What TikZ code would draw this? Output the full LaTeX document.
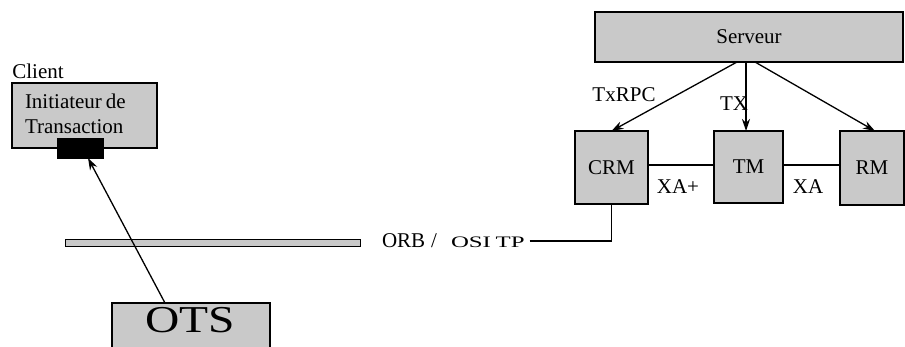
\documentclass[tikz,border=0pt]{standalone}
\usepackage{fontspec}
\setmainfont{Liberation Serif}
\usetikzlibrary{arrows.meta}
\begin{document}
\begin{tikzpicture}[x=1pt,y=-1pt,
  every node/.style={inner sep=0pt,outer sep=0pt},
  box/.style={draw=black,fill=gray!42,line width=1.5pt,font=\fontsize{21}{25}\selectfont},
  lbl/.style={font=\fontsize{21}{25}\selectfont},
  conn/.style={line width=1.2pt},
  arr/.style={line width=1.3pt,-{Stealth[length=12pt,width=8pt]}}]
\useasboundingbox (0,0) rectangle (905,347);
\clip (0,0) rectangle (905,347);
% left side
\node[lbl] (client) at (38,71) {Client};
\node[box,minimum width=145pt,minimum height=65pt] (init) at (84.5,115.5) {};
\node[lbl,anchor=base west] (initA) at (25,109) {Initiateur\hspace{4pt}de};
\node[lbl,anchor=base west] (initB) at (25,134) {Transaction};
\node[draw=black,fill=black,minimum width=46pt,minimum height=20pt] (plug) at (80,148) {};
\node[draw=black,fill=gray!42,line width=1pt,minimum width=295pt,minimum height=7pt] (bar) at (212.5,243.5) {};
\node[box,minimum width=158pt,minimum height=70pt] (ots) at (191,338) {};
\node[font=\fontsize{38}{44}\selectfont] (otst) at (190,320) {\scalebox{1.25}[1]{OTS}};
\draw[arr] ([xshift=-26pt]ots.north) -- ([xshift=8pt]plug.south);
% ORB label
\node[lbl,anchor=base west] (orb) at (382,248) {ORB\hspace{6pt}/\hspace{14pt}{\fontsize{16}{19}\selectfont\scalebox{1.55}[1]{OSI\hspace{3pt}TP}}};
% right side
\node[box,minimum width=308pt,minimum height=50pt] (serveur) at (749,37) {Serveur};
\node[box,minimum width=73pt,minimum height=73pt] (crm) at (611.5,167.5) {CRM};
\node[box,minimum width=69pt,minimum height=72pt] (tm) at (748.5,167) {TM};
\node[box,minimum width=64pt,minimum height=74pt] (rm) at (872,168) {RM};
\draw[conn] (crm.east |- 0,165) coordinate (c1) -- (tm.west |- c1);
\draw[conn] (tm.east |- 0,165) coordinate (c2) -- (rm.west |- c2);
\node[lbl] (xap) at (678,187) {XA+};
\node[lbl] (xa) at (808,187) {XA};
\draw[arr] ([xshift=-12pt]serveur.south) -- (crm.north);
\draw[arr] ([xshift=-3pt]serveur.south) -- ([xshift=-2.5pt]tm.north);
\draw[arr] ([xshift=6pt]serveur.south) -- ([xshift=3pt]rm.north);
\node[lbl] (txrpc) at (624,95) {TxRPC};
\node[lbl] (tx) at (734,104) {TX};
\coordinate (orbend) at ([xshift=5pt,yshift=7pt]orb.base east);
\draw[conn] (orbend) -- (orbend -| crm.south) -- (crm.south);
\end{tikzpicture}
\end{document}
